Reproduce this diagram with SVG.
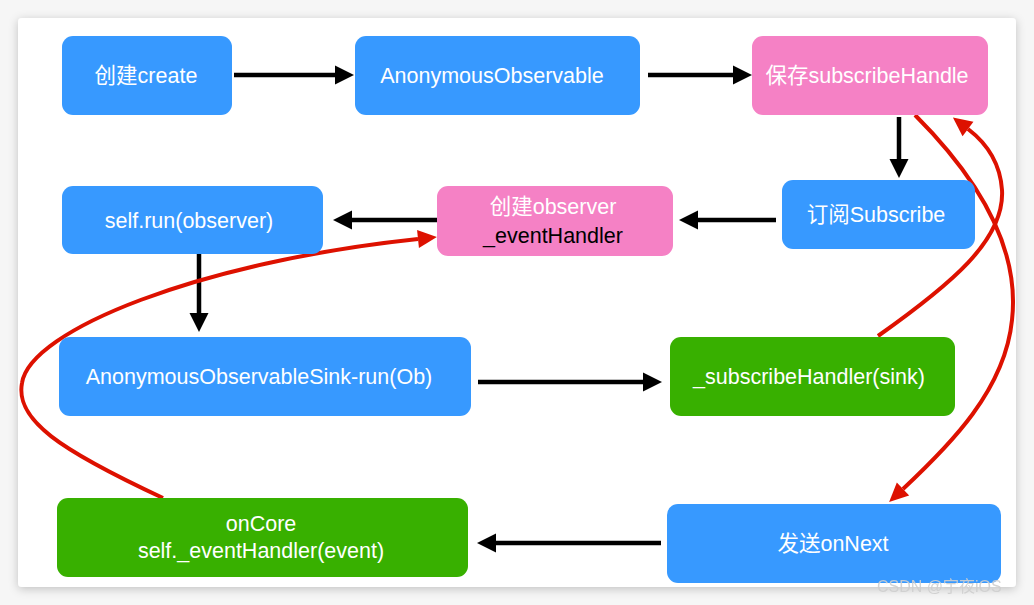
<svg xmlns="http://www.w3.org/2000/svg" width="1034" height="605" viewBox="0 0 1034 605">
<style>
.blue{fill:#3799FF}
.pink{fill:#F581C5}
.green{fill:#38B000}
.t{font-family:"Liberation Sans","Noto Sans CJK SC",sans-serif;font-size:21.5px;fill:#ffffff;text-anchor:middle}
.dark{fill:#000000}
.blk{stroke:#000;stroke-width:4.5;fill:none}
.red{stroke:#DD1100;stroke-width:4;fill:none}
.wm{font-family:"Liberation Sans","Noto Sans CJK SC",sans-serif;font-size:16px;fill:#cfcfcf;opacity:0.9}
</style>
<defs>
<filter id="sh" x="-5%" y="-5%" width="110%" height="110%">
<feDropShadow dx="0" dy="2" stdDeviation="5" flood-color="#000" flood-opacity="0.22"/>
</filter>
<marker id="ab" markerUnits="userSpaceOnUse" markerWidth="20" markerHeight="20" refX="0" refY="0" orient="auto" overflow="visible">
<path d="M0,-9.5 L19,0 L0,9.5 z" fill="#000"/>
</marker>
<marker id="ar" markerUnits="userSpaceOnUse" markerWidth="20" markerHeight="20" refX="0" refY="0" orient="auto" overflow="visible">
<path d="M0,-9 L19,0 L0,9 z" fill="#DD1100"/>
</marker>
</defs>
<rect x="0" y="0" width="1034" height="605" fill="#f6f6f6"/>
<rect x="18" y="18" width="998" height="569" rx="4" fill="#ffffff" filter="url(#sh)"/>

<g id="connectors">
<line class="blk" x1="234" y1="75" x2="335" y2="75" marker-end="url(#ab)"/>
<line class="blk" x1="648" y1="75" x2="733" y2="75" marker-end="url(#ab)"/>
<line class="blk" x1="899" y1="117" x2="899" y2="159" marker-end="url(#ab)"/>
<line class="blk" x1="776" y1="220" x2="698" y2="220" marker-end="url(#ab)"/>
<line class="blk" x1="437" y1="220" x2="352" y2="220" marker-end="url(#ab)"/>
<line class="blk" x1="199" y1="254" x2="199" y2="313" marker-end="url(#ab)"/>
<line class="blk" x1="478" y1="382" x2="643" y2="382" marker-end="url(#ab)"/>
<line class="blk" x1="661" y1="543" x2="496" y2="543" marker-end="url(#ab)"/>
<path class="red" d="M878,336 C950,285 1005,240 1002,190 C1000,160 985,142 968,129" marker-end="url(#ar)"/>
<path class="red" d="M915,115 C980,180 1020,250 1012,320 C1005,390 950,445 903,489" marker-end="url(#ar)"/>
<path class="red" d="M163,498 C60,450 15,420 22,383 C30,330 200,262 418,239" marker-end="url(#ar)"/>
</g>

<g id="n-create">
<rect class="blue" x="62" y="36" width="170" height="79" rx="11"/>
<text class="t" x="146" y="83">创建create</text>
</g>
<g id="n-anon">
<rect class="blue" x="355" y="36" width="285" height="79" rx="11"/>
<text class="t" x="492" y="83">AnonymousObservable</text>
</g>
<g id="n-save">
<rect class="pink" x="752" y="36" width="236" height="79" rx="11"/>
<text class="t" x="867" y="83">保存subscribeHandle</text>
</g>
<g id="n-subscribe">
<rect class="blue" x="782" y="180" width="193" height="69" rx="11"/>
<text class="t" x="876" y="222">订阅Subscribe</text>
</g>
<g id="n-observer">
<rect class="pink" x="437" y="186" width="236" height="70" rx="11"/>
<text class="t" x="553" y="214">创建observer</text>
<text class="t dark" x="553" y="243">_eventHandler</text>
</g>
<g id="n-run">
<rect class="blue" x="62" y="186" width="261" height="68" rx="11"/>
<text class="t" x="189" y="228">self.run(observer)</text>
</g>
<g id="n-sink">
<rect class="blue" x="59" y="337" width="412" height="79" rx="11"/>
<text class="t" x="259" y="384">AnonymousObservableSink-run(Ob)</text>
</g>
<g id="n-handler">
<rect class="green" x="670" y="337" width="285" height="79" rx="11"/>
<text class="t" x="809" y="384">_subscribeHandler(sink)</text>
</g>
<g id="n-oncore">
<rect class="green" x="57" y="498" width="411" height="79" rx="11"/>
<text class="t" x="261" y="531">onCore</text>
<text class="t" x="261" y="558">self._eventHandler(event)</text>
</g>
<g id="n-onnext">
<rect class="blue" x="667" y="504" width="334" height="79" rx="11"/>
<text class="t" x="833" y="551">发送onNext</text>
</g>
<text class="wm" x="877" y="592">CSDN @宇夜iOS</text>
</svg>
